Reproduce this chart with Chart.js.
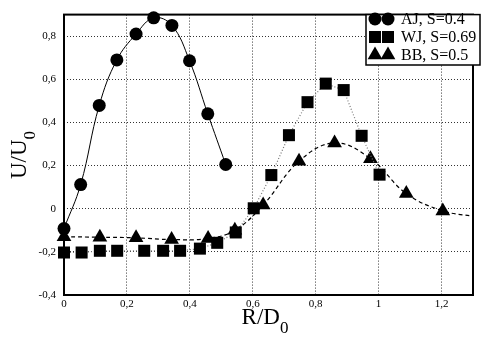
<!DOCTYPE html>
<html>
<head>
<meta charset="utf-8">
<script src="https://cdn.jsdelivr.net/npm/chart.js@4/dist/chart.umd.min.js"></script>
<style>
  html, body { margin: 0; padding: 0; background: #fff; }
  #wrap { width: 482px; height: 343px; }
</style>
</head>
<body>
<div id="wrap"><canvas id="c" width="482" height="343"></canvas></div>
<script>
// AJ, S=0.4
const ajX = [0, 0.053, 0.112, 0.168, 0.229, 0.285, 0.343, 0.399, 0.457, 0.514];
const ajY = [-0.092, 0.112, 0.479, 0.69, 0.81, 0.885, 0.85, 0.686, 0.44, 0.205];

// WJ, S=0.69
const wjX = [0, 0.056, 0.114, 0.169, 0.255, 0.315, 0.369, 0.432, 0.487, 0.546, 0.603, 0.659, 0.715, 0.774, 0.832, 0.889, 0.946, 1.003];
const wjY = [-0.203, -0.203, -0.195, -0.195, -0.195, -0.195, -0.195, -0.185, -0.158, -0.11, 0.002, 0.156, 0.341, 0.494, 0.58, 0.55, 0.338, 0.158];

// BB, S=0.5 (последняя точка - хвост штриховой линии без маркера)
const bbX = [0, 0.114, 0.229, 0.342, 0.458, 0.543, 0.633, 0.747, 0.86, 0.974, 1.088, 1.204, 1.3];
const bbY = [-0.13, -0.132, -0.135, -0.143, -0.138, -0.1, 0.017, 0.22, 0.305, 0.232, 0.07, -0.01, -0.035];

const xTicks = [0, 0.2, 0.4, 0.6, 0.8, 1, 1.2];
const yTicks = [-0.4, -0.2, 0, 0.2, 0.4, 0.6, 0.8];

const seriesNames = ["AJ, S=0.4", "WJ, S=0.69", "BB, S=0.5"];

const SERIF = "'Liberation Serif', 'DejaVu Serif', serif";

function toPoints(xs, ys) {
    return xs.map((x, i) => ({ x: x, y: ys[i] }));
}

function fmt(v) {
    return String(Math.round(v * 10) / 10).replace(".", ",");
}

// Рамка графика
const framePlugin = {
    id: "frame",
    beforeDatasetsDraw(chart) {
        const { ctx, chartArea: a } = chart;
        ctx.save();
        ctx.strokeStyle = "#000";
        ctx.lineWidth = 2;
        ctx.strokeRect(a.left, a.top, a.right - a.left, a.bottom - a.top);
        ctx.restore();
    },
};

// Подписи осей с нижним индексом
function drawSubTitle(ctx, main, sub, size) {
    const subSize = Math.round(size * 0.72);
    ctx.font = size + "px " + SERIF;
    const w1 = ctx.measureText(main).width;
    ctx.font = subSize + "px " + SERIF;
    const w2 = ctx.measureText(sub).width;
    const x = -(w1 + w2) / 2;
    ctx.textBaseline = "alphabetic";
    ctx.textAlign = "left";
    ctx.font = size + "px " + SERIF;
    ctx.fillText(main, x, 0);
    ctx.font = subSize + "px " + SERIF;
    ctx.fillText(sub, x + w1, size * 0.4);
}

const titlesPlugin = {
    id: "titles",
    afterDraw(chart) {
        const { ctx } = chart;
        ctx.save();
        ctx.fillStyle = "#000";
        ctx.translate(265, 324);
        drawSubTitle(ctx, "R/D", "0", 23);
        ctx.restore();

        ctx.save();
        ctx.fillStyle = "#000";
        ctx.translate(26, 155);
        ctx.rotate(-Math.PI / 2);
        drawSubTitle(ctx, "U/U", "0", 23);
        ctx.restore();
    },
};

// Легенда с двумя маркерами на строку
const legendPlugin = {
    id: "twinLegend",
    afterDraw(chart) {
        const { ctx, chartArea: a } = chart;
        const left = 366, top = a.top, right = 480, bottom = 65;
        ctx.save();
        ctx.fillStyle = "#fff";
        ctx.fillRect(left, top, right - left, bottom - top);
        ctx.strokeStyle = "#000";
        ctx.lineWidth = 1.5;
        ctx.strokeRect(left, top, right - left, bottom - top);
        const rows = [19, 37, 55];
        chart.data.datasets.forEach((ds, i) => {
            const opts = {
                pointStyle: ds.pointStyle,
                radius: ds.legendRadius,
                rotation: 0,
                borderWidth: 0,
            };
            ctx.fillStyle = "#000";
            ctx.strokeStyle = "#000";
            Chart.helpers.drawPoint(ctx, opts, 375, rows[i]);
            Chart.helpers.drawPoint(ctx, opts, 388, rows[i]);
            ctx.font = "16px " + SERIF;
            ctx.textBaseline = "middle";
            ctx.textAlign = "left";
            ctx.fillText(seriesNames[i], 401, rows[i] + 1);
        });
        ctx.restore();
    },
};

new Chart(document.getElementById("c"), {
    type: "scatter",
    data: {
        datasets: [
            {
                label: seriesNames[0],
                data: toPoints(ajX, ajY),
                showLine: true,
                borderColor: "#000",
                borderWidth: 1,
                tension: 0.4,
                pointStyle: "circle",
                pointRadius: 6.5,
                legendRadius: 6.5,
                pointBackgroundColor: "#000",
                pointBorderWidth: 0,
            },
            {
                label: seriesNames[1],
                data: toPoints(wjX, wjY),
                showLine: true,
                borderColor: "#777",
                borderWidth: 1.2,
                borderDash: [1, 2],
                tension: 0,
                pointStyle: "rect",
                pointRadius: 8.5,
                legendRadius: 8.5,
                pointBackgroundColor: "#000",
                pointBorderWidth: 0,
            },
            {
                label: seriesNames[2],
                data: toPoints(bbX, bbY),
                showLine: true,
                borderColor: "#000",
                borderWidth: 1.2,
                borderDash: [4, 3],
                tension: 0.4,
                pointStyle: "triangle",
                pointRadius: (c) => (c.dataIndex === bbX.length - 1 ? 0 : 8.5),
                legendRadius: 8.5,
                pointBackgroundColor: "#000",
                pointBorderWidth: 0,
            },
        ],
    },
    options: {
        responsive: false,
        animation: false,
        clip: false,
        layout: { padding: { top: 9, right: 9, left: 0, bottom: 0 } },
        plugins: {
            legend: { display: false },
            tooltip: { enabled: false },
        },
        elements: { point: { hoverRadius: 0 } },
        scales: {
            x: {
                type: "linear",
                min: 0,
                max: 1.3,
                afterBuildTicks: (s) => { s.ticks = xTicks.map((v) => ({ value: v })); },
                afterFit: (s) => { s.height = 48; },
                ticks: {
                    font: { family: SERIF, size: 11 },
                    color: "#000",
                    padding: 3,
                    maxRotation: 0,
                    callback: (v) => fmt(v),
                },
                grid: { color: "#333", lineWidth: 1, drawTicks: false },
                border: { display: false, dash: [1, 2] },
            },
            y: {
                type: "linear",
                min: -0.4,
                max: 0.9,
                afterBuildTicks: (s) => { s.ticks = yTicks.map((v) => ({ value: v })); },
                afterFit: (s) => { s.width = 64; },
                ticks: {
                    font: { family: SERIF, size: 11 },
                    color: "#000",
                    padding: 8,
                    callback: (v) => fmt(v),
                },
                grid: { color: "#333", lineWidth: 1, drawTicks: false },
                border: { display: false, dash: [1, 2] },
            },
        },
    },
    plugins: [framePlugin, titlesPlugin, legendPlugin],
});
</script>
</body>
</html>
